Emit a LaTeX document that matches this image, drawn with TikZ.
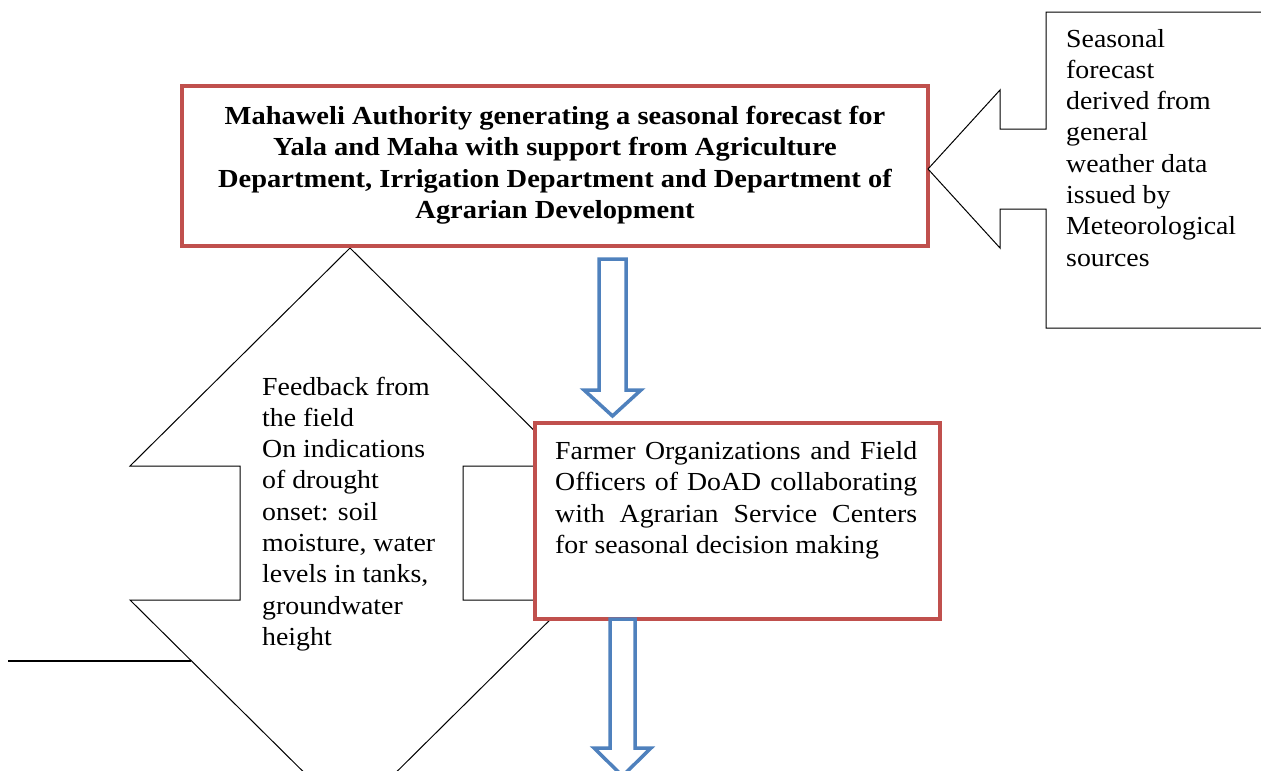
\documentclass[tikz,border=0pt]{standalone}
\usepackage{fontspec}
\setmainfont{Liberation Serif}[FakeStretch=1.07]
\newfontfamily\mahfont{Liberation Serif}[FakeStretch=1.095]
\definecolor{boxred}{HTML}{C0504D}
\definecolor{arrowblue}{HTML}{4F81BD}
\tikzset{
  redbox/.style={draw=boxred, line width=4pt, fill=white, rectangle, inner sep=0pt},
  outline/.style={draw=black, line width=1pt, fill=white, line join=miter},
  hollow/.style={draw=arrowblue, line width=3.5pt, fill=white, line join=miter},
  txt/.style={inner sep=0pt, anchor=base west},
}
\newcommand\regtext[2]{\parbox[t]{#1pt}{\fontsize{26}{31.3}\selectfont\raggedright #2}}
\begin{document}
\begin{tikzpicture}[x=1pt,y=-1pt]
\useasboundingbox (0,0) rectangle (1261,771);
\clip (0,0) rectangle (1261,771);
% feedback up-down arrow
\coordinate (fbtop) at (350,248);
\coordinate (fbbot) at (350,818);
\draw[outline] (fbtop) -- (570,466) -- (463,466) -- (463,600) -- (570,600) -- (fbbot)
  -- (130,600) -- (240,600) -- (240,466) -- (130,466) -- cycle;
\coordinate (lineend) at (8,661);
\coordinate (lineat) at (191,661);
\draw[line width=2pt] (lineend) -- (lineat);
\node[txt] (fbtext) at (262,395) {\regtext{200}{Feedback from\\ the field\\ On indications\\ of drought\\ onset: soil\\ moisture, water\\ levels in tanks,\\ groundwater\\ height}};
% farmer box
\node[redbox, minimum width=405pt, minimum height=196pt] (farm) at (737.5,521) {};
\node[txt] (farmtext) at (555,459) {\parbox[t]{362pt}{\fontsize{26}{31.5}\selectfont
  \makebox[362pt][s]{Farmer Organizations and Field}\\
  \makebox[362pt][s]{Officers of DoAD collaborating}\\
  \makebox[362pt][s]{with Agrarian Service Centers}\\
  for seasonal decision making}};
% top box
\node[redbox, minimum width=746pt, minimum height=160pt] (mah) at (555,166) {};
\node[inner sep=0pt, anchor=base] (mahtext) at (555,124.5) {\parbox[t]{740pt}{\centering\mahfont\fontsize{26}{31.3}\selectfont\bfseries
  Mahaweli Authority generating a seasonal forecast for\\ Yala and Maha with support from Agriculture\\ Department, Irrigation Department and Department of\\ Agrarian Development}};
% callout
\coordinate (cotip) at (928,169);
\draw[outline] (1275,12) -- (1046,12) -- (1046,129) -- (1000,129) -- (1000,90) -- (cotip)
  -- (1000,248) -- (1000,209) -- (1046,209) -- (1046,328) -- (1275,328);
\node[txt] (cotext) at (1066,47) {\regtext{190}{Seasonal\\ forecast\\ derived from\\ general\\ weather data\\ issued by\\ Meteorological\\ sources}};
% blue hollow arrows
\draw[hollow] (599,259) -- (626,259) -- (626,390) -- (641,390) -- (612.5,416) -- (584,390) -- (599,390) -- cycle;
\draw[hollow] (610,619) -- (635,619) -- (635,748) -- (651,748) -- (622.5,776) -- (594,748) -- (610,748) -- cycle;
\end{tikzpicture}
\end{document}
